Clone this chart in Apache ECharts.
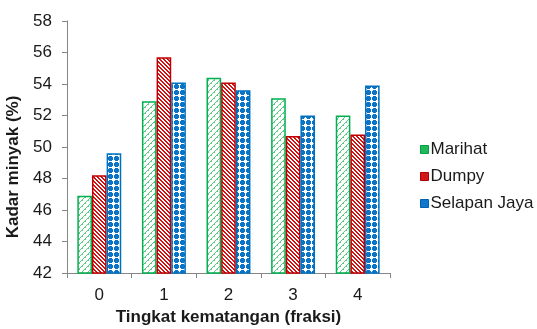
<!DOCTYPE html>
<html>
<head>
<meta charset="utf-8">
<script src="https://cdn.jsdelivr.net/npm/echarts@6/dist/echarts.min.js"></script>
<style>
  html, body { margin: 0; padding: 0; background: #fff; }
  #chart { width: 537px; height: 329px; }
</style>
</head>
<body>
<div id="chart"></div>
<script>
// Oil content by ripeness level for three varieties
var categories = ['0', '1', '2', '3', '4'];
var marihat = [46.9, 52.9, 54.4, 53.1, 52.0];
var dumpy = [48.2, 55.7, 54.1, 50.7, 50.8];
var selapanJaya = [49.6, 54.1, 53.6, 52.0, 53.9];
var yTicks = { min: 42, max: 58, step: 2 };

// Pixel hatch fills: each row string marks the coloured pixels of a tile
function tile(rows, ink) {
  var size = rows.length;
  var c = document.createElement('canvas');
  c.width = size; c.height = size;
  var ctx = c.getContext('2d');
  ctx.fillStyle = '#ffffff';
  ctx.fillRect(0, 0, size, size);
  ctx.fillStyle = ink;
  for (var y = 0; y < size; y++) {
    for (var x = 0; x < size; x++) {
      if (rows[y].charAt(x) === 'X') ctx.fillRect(x, y, 1, 1);
    }
  }
  return { image: c, repeat: 'repeat' };
}

var greenFill = tile([
  '.....X',
  '....X.',
  '...XX.',
  '..X...',
  '.X....',
  'XX....'
], '#62c985');

var redFill = tile([
  'XX..',
  '.XX.',
  '..XX',
  'X..X'
], '#d41010');

var blueFill = tile([
  '.XXX..',
  'XXXXX.',
  'XXXXX.',
  'XXXXX.',
  '.XXX..',
  '......'
], '#0a74c8');

var chart = echarts.init(document.getElementById('chart'), null, { renderer: 'canvas' });

var font = 'Liberation Sans, Arial, sans-serif';

chart.setOption({
  animation: false,
  backgroundColor: '#ffffff',
  grid: { left: 67, right: 147, top: 21, bottom: 56, containLabel: false, outerBoundsMode: 'none' },
  legend: {
    orient: 'vertical',
    left: 415,
    top: 136,
    itemWidth: 8,
    itemHeight: 8,
    itemGap: 10,
    icon: 'rect',
    textStyle: { fontFamily: font, fontSize: 17, color: '#1a1a1a', padding: [0, 0, 0, -3] },
    data: [
      { name: 'Marihat', itemStyle: { color: '#20b85a', borderColor: '#00a040', borderWidth: 1 } },
      { name: 'Dumpy', itemStyle: { color: '#d01818', borderColor: '#b00000', borderWidth: 1 } },
      { name: 'Selapan Jaya', itemStyle: { color: '#1077cc', borderColor: '#0060b0', borderWidth: 1 } }
    ]
  },
  xAxis: {
    type: 'category',
    data: categories,
    name: 'Tingkat kematangan (fraksi)',
    nameLocation: 'middle',
    nameGap: 31,
    nameTextStyle: { fontFamily: font, fontSize: 17, fontWeight: 'bold', color: '#1a1a1a' },
    axisLine: { lineStyle: { color: '#868686', width: 1 } },
    axisTick: { show: true, length: 5, alignWithLabel: false, lineStyle: { color: '#868686' } },
    axisLabel: { fontFamily: font, fontSize: 17, color: '#1a1a1a', margin: 14 }
  },
  yAxis: {
    type: 'value',
    min: yTicks.min,
    max: yTicks.max,
    interval: yTicks.step,
    name: 'Kadar minyak (%)',
    nameLocation: 'middle',
    nameGap: 39,
    nameTextStyle: { fontFamily: font, fontSize: 17, fontWeight: 'bold', color: '#1a1a1a', padding: [0, 0, 0, -40] },
    axisLine: { show: true, lineStyle: { color: '#868686', width: 1 } },
    axisTick: { show: true, length: 5, lineStyle: { color: '#868686' } },
    splitLine: { show: false },
    axisLabel: { fontFamily: font, fontSize: 17, color: '#1a1a1a', margin: 15 }
  },
  series: [
    {
      name: 'Marihat', type: 'bar', data: marihat,
      barGap: '0%', barCategoryGap: '32%',
      itemStyle: { color: greenFill, borderColor: '#00b050', borderWidth: 1.5 }
    },
    {
      name: 'Dumpy', type: 'bar', data: dumpy,
      barGap: '0%', barCategoryGap: '32%',
      itemStyle: { color: redFill, borderColor: '#c00000', borderWidth: 1.5 }
    },
    {
      name: 'Selapan Jaya', type: 'bar', data: selapanJaya,
      barGap: '0%', barCategoryGap: '32%',
      itemStyle: { color: blueFill, borderColor: '#0070c0', borderWidth: 1.5 }
    }
  ]
});
</script>
</body>
</html>
